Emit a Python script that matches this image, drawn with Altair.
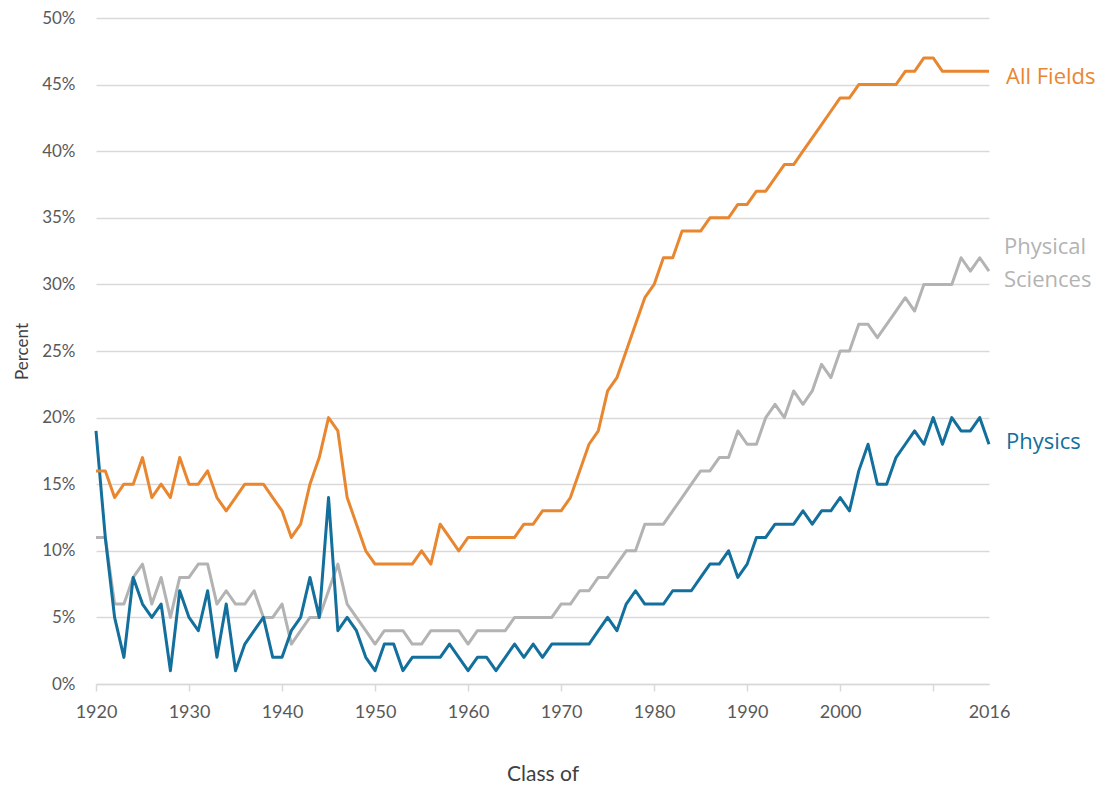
import altair as alt
import pandas as pd

years = list(range(1920, 2017))

all_fields = [
    16, 16, 14, 15, 15, 17, 14, 15, 14, 17,
    15, 15, 16, 14, 13, 14, 15, 15, 15, 14,
    13, 11, 12, 15, 17, 20, 19, 14, 12, 10,
    9, 9, 9, 9, 9, 10, 9, 12, 11, 10,
    11, 11, 11, 11, 11, 11, 12, 12, 13, 13,
    13, 14, 16, 18, 19, 22, 23, 25, 27, 29,
    30, 32, 32, 34, 34, 34, 35, 35, 35, 36,
    36, 37, 37, 38, 39, 39, 40, 41, 42, 43,
    44, 44, 45, 45, 45, 45, 45, 46, 46, 47,
    47, 46, 46, 46, 46, 46, 46,
]

physical_sciences = [
    11, 11, 6, 6, 8, 9, 6, 8, 5, 8,
    8, 9, 9, 6, 7, 6, 6, 7, 5, 5,
    6, 3, 4, 5, 5, 7, 9, 6, 5, 4,
    3, 4, 4, 4, 3, 3, 4, 4, 4, 4,
    3, 4, 4, 4, 4, 5, 5, 5, 5, 5,
    6, 6, 7, 7, 8, 8, 9, 10, 10, 12,
    12, 12, 13, 14, 15, 16, 16, 17, 17, 19,
    18, 18, 20, 21, 20, 22, 21, 22, 24, 23,
    25, 25, 27, 27, 26, 27, 28, 29, 28, 30,
    30, 30, 30, 32, 31, 32, 31,
]

physics = [
    19, 11, 5, 2, 8, 6, 5, 6, 1, 7,
    5, 4, 7, 2, 6, 1, 3, 4, 5, 2,
    2, 4, 5, 8, 5, 14, 4, 5, 4, 2,
    1, 3, 3, 1, 2, 2, 2, 2, 3, 2,
    1, 2, 2, 1, 2, 3, 2, 3, 2, 3,
    3, 3, 3, 3, 4, 5, 4, 6, 7, 6,
    6, 6, 7, 7, 7, 8, 9, 9, 10, 8,
    9, 11, 11, 12, 12, 12, 13, 12, 13, 13,
    14, 13, 16, 18, 15, 15, 17, 18, 19, 18,
    20, 18, 20, 19, 19, 20, 18,
]

series_names = ["Physical Sciences", "Physics", "All Fields"]
series_colors = ["#B3B3B3", "#136F9C", "#E8872F"]
series_values = [physical_sciences, physics, all_fields]

x_tick_values = [1920, 1930, 1940, 1950, 1960, 1970, 1980, 1990, 2000, 2010, 2016]
y_tick_values = [0, 5, 10, 15, 20, 25, 30, 35, 40, 45, 50]

rows = []
for name, vals in zip(series_names, series_values):
    for yr, v in zip(years, vals):
        rows.append({"year": yr, "value": v, "series": name})
df = pd.DataFrame(rows)

x_enc = alt.X(
    "year:Q",
    scale=alt.Scale(domain=[1920, 2016], nice=False, zero=False),
    axis=alt.Axis(
        title="Class of",
        values=x_tick_values,
        labelExpr="datum.value == 2010 ? '' : datum.value",
        format="d",
        grid=False,
        domainColor="#D9D9D9",
        domainWidth=1.5,
        tickColor="#D9D9D9",
        tickWidth=1.5,
        tickSize=7,
        tickOpacity={"condition": {"test": "datum.value == 2016", "value": 0}, "value": 1},
        labelFlush=False,
        labelPadding=12,
        labelFont="Lato",
        labelFontSize=18,
        labelColor="#595959",
        titleFont="Lato",
        titleFontSize=21,
        titleFontWeight="normal",
        titleColor="#404040",
        titlePadding=42,
    ),
)

y_enc = alt.Y(
    "value:Q",
    scale=alt.Scale(domain=[0, 50], nice=False),
    axis=alt.Axis(
        title="Percent",
        values=y_tick_values,
        labelExpr="datum.value + '%'",
        grid=True,
        gridColor="#D9D9D9",
        gridWidth=1.5,
        domain=False,
        ticks=False,
        labelPadding=21,
        labelFont="Lato",
        labelFontSize=17,
        labelColor="#595959",
        titleFont="Lato",
        titleFontSize=17,
        titleFontWeight="normal",
        titleColor="#404040",
        titlePadding=10,
    ),
)

color_scale = alt.Scale(domain=series_names, range=series_colors)

lines = alt.Chart(df).mark_line(strokeWidth=3, strokeJoin="round").encode(
    x=x_enc,
    y=y_enc,
    color=alt.Color("series:N", scale=color_scale, legend=None),
    detail="series:N",
)

last = df[df["year"] == 2016].copy()
label_text = {
    "All Fields": "All Fields",
    "Physical Sciences": ["Physical", "Sciences"],
    "Physics": "Physics",
}
label_dy = {"All Fields": 6, "Physical Sciences": -24, "Physics": -2}
label_dx = {"All Fields": 17, "Physical Sciences": 15, "Physics": 17}

label_layers = []
for name in series_names:
    sub = last[last["series"] == name].copy()
    sub["label"] = [label_text[name]]
    layer = alt.Chart(sub).mark_text(
        align="left",
        baseline="middle",
        font="Open Sans",
        fontSize=22,
        lineHeight=33,
        dx=label_dx[name],
        dy=label_dy[name],
    ).encode(
        x=alt.X("year:Q", scale=alt.Scale(domain=[1920, 2016], nice=False, zero=False)),
        y=alt.Y("value:Q", scale=alt.Scale(domain=[0, 50], nice=False)),
        text="label",
        color=alt.Color("series:N", scale=color_scale, legend=None),
    )
    label_layers.append(layer)

chart = alt.layer(lines, *label_layers).properties(
    width=893,
    height=666,
    autosize=alt.AutoSizeParams(type="none"),
    padding={"left": 88, "top": 10, "right": 111, "bottom": 103},
    background="white",
).configure_view(stroke=None)

chart.save("out.html", embed_options={"renderer": "svg", "actions": False})
